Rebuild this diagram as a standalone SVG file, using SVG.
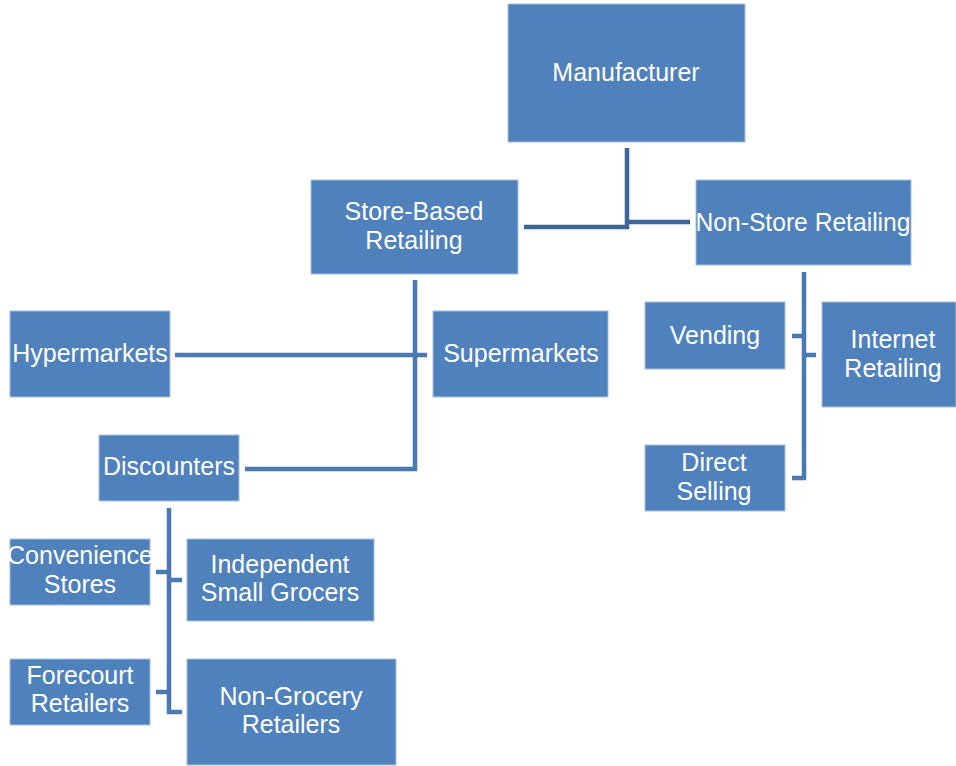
<svg xmlns="http://www.w3.org/2000/svg" width="956" height="766" viewBox="0 0 956 766">
<style>
.box{fill:#4F81BD;stroke:#A9C0DE;stroke-width:1}
.t{font-family:"Liberation Sans",Arial,sans-serif;font-size:25px;fill:#FFFFFF;text-anchor:middle}
.c{fill:none;stroke:#4A78B2;stroke-width:4.5}
.cd{fill:none;stroke:#3F6698;stroke-width:4.5}
</style>
<rect width="956" height="766" fill="#FFFFFF"/>
<g id="connectors">
<path class="cd" d="M627,148 V227 H524 M627,222 H690"/>
<path class="c" d="M415,280 V469 H245 M175,355 H427"/>
<path class="c" d="M169,508 V580 H182 M156,572 H169 M169,580 V712 H182 M156,692 H169"/>
<path class="c" d="M804,272 V355 H816 M792,336 H804 M804,355 V478 H792"/>
</g>
<g id="manufacturer"><rect class="box" x="508" y="4" width="237" height="138"/><text class="t" x="626" y="81">Manufacturer</text></g>
<g id="store-based"><rect class="box" x="311" y="180" width="207" height="94"/><text class="t" x="414" y="220">Store-Based</text><text class="t" x="414" y="249">Retailing</text></g>
<g id="non-store"><rect class="box" x="696" y="180" width="215" height="85"/><text class="t" x="803" y="231" textLength="215" lengthAdjust="spacingAndGlyphs">Non-Store Retailing</text></g>
<g id="hypermarkets"><rect class="box" x="10" y="311" width="160" height="86"/><text class="t" x="90" y="362">Hypermarkets</text></g>
<g id="supermarkets"><rect class="box" x="433" y="311" width="175" height="86"/><text class="t" x="521" y="362">Supermarkets</text></g>
<g id="discounters"><rect class="box" x="99" y="435" width="140" height="66"/><text class="t" x="169" y="475">Discounters</text></g>
<g id="vending"><rect class="box" x="645" y="302" width="140" height="67"/><text class="t" x="715" y="344">Vending</text></g>
<g id="internet"><rect class="box" x="822" y="302" width="134" height="105"/><text class="t" x="893" y="348">Internet</text><text class="t" x="893" y="377">Retailing</text></g>
<g id="direct"><rect class="box" x="645" y="445" width="140" height="66"/><text class="t" x="714" y="471">Direct</text><text class="t" x="714" y="500">Selling</text></g>
<g id="convenience"><rect class="box" x="10" y="539" width="140" height="66"/><text class="t" x="80" y="564">Convenience</text><text class="t" x="80" y="593">Stores</text></g>
<g id="independent"><rect class="box" x="187" y="539" width="187" height="82"/><text class="t" x="280" y="573">Independent</text><text class="t" x="280" y="601">Small Grocers</text></g>
<g id="forecourt"><rect class="box" x="10" y="659" width="140" height="66"/><text class="t" x="80" y="684">Forecourt</text><text class="t" x="80" y="712">Retailers</text></g>
<g id="non-grocery"><rect class="box" x="187" y="659" width="209" height="106"/><text class="t" x="291" y="705">Non-Grocery</text><text class="t" x="291" y="733">Retailers</text></g>
</svg>
